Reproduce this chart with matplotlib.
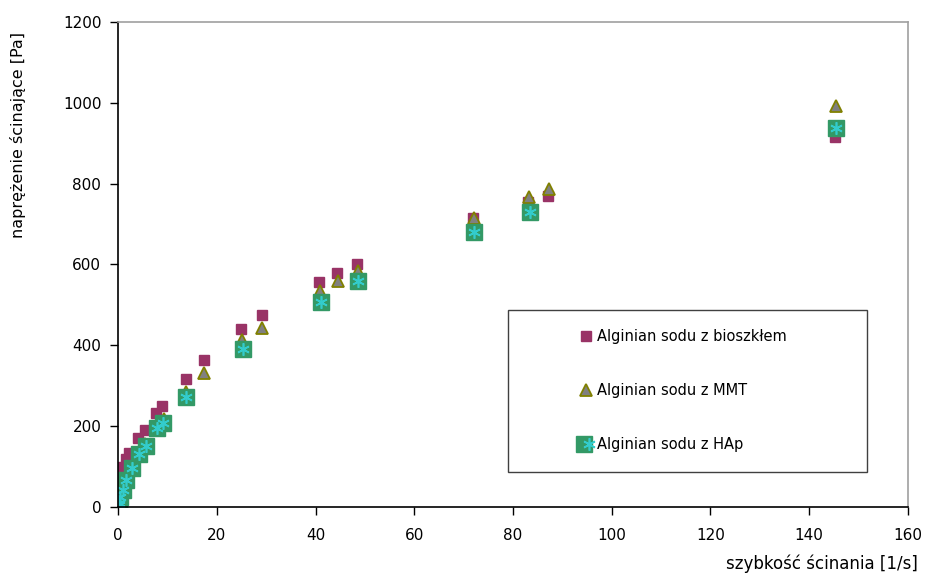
import matplotlib.pyplot as plt
from matplotlib.legend_handler import HandlerTuple
from matplotlib.patches import Rectangle

plt.rcParams['font.family'] = ['DejaVu Sans']

# shear rate [1/s] and shear stress [Pa] for each sample
x_bio = [0.1, 0.2, 0.4, 0.6, 1.0, 1.6, 2.3, 4.0, 5.4, 7.7, 9.0, 13.7, 17.4,
         25.0, 29.1, 40.7, 44.4, 48.5, 71.8, 83.1, 87.1, 145.2]
y_bio = [20, 35, 55, 75, 98, 118, 133, 171, 191, 233, 251, 317, 363,
         440, 475, 557, 580, 601, 714, 755, 769, 916]

x_mmt = [0.1, 0.2, 0.4, 0.8, 1.5, 2.5, 4.0, 5.5, 7.8, 9.3, 13.8, 17.5,
         25.2, 29.2, 41.0, 44.6, 48.7, 72.0, 83.3, 87.3, 145.5]
y_mmt = [5, 12, 25, 40, 63, 95, 130, 157, 200, 218, 285, 332,
         412, 444, 535, 560, 585, 714, 768, 786, 992]

x_hap = [0.1, 0.2, 0.4, 0.95, 1.6, 2.8, 4.2, 5.7, 7.8, 9.2, 13.8,
         25.4, 41.1, 48.7, 72.2, 83.4, 145.5]
y_hap = [5, 9, 25, 42, 67, 97, 130, 152, 195, 209, 271,
         392, 508, 559, 681, 731, 938]

labels = ["Alginian sodu z bioszkłem", "Alginian sodu z MMT", "Alginian sodu z HAp"]

fig = plt.figure(figsize=(9.28, 5.83), dpi=100)
ax = fig.add_axes([0.1272, 0.1304, 0.8512, 0.8319])

h1, = ax.plot(x_bio, y_bio, 's', ms=7.2, color='#993366', mec='#993366', ls='none')
h2, = ax.plot(x_mmt, y_mmt, '^', ms=8, mfc='#808080', mec='#808000', mew=1.3, ls='none')
h3a, = ax.plot(x_hap, y_hap, 's', ms=11.5, color='#339966', mec='#339966', ls='none')
h3b, = ax.plot(x_hap, y_hap, marker=(6, 2, 0), ms=9, mec='#33CCCC', mew=1.2, ls='none')

ax.set_xlim(0, 160)
ax.set_ylim(0, 1200)
ax.set_xticks(range(0, 161, 20))
ax.set_yticks(range(0, 1201, 200))
ax.tick_params(direction='out', length=6, width=1, labelsize=11, pad=6)
ax.tick_params(axis='x', pad=9)

for s in ('left', 'bottom'):
    ax.spines[s].set_color('black')
    ax.spines[s].set_linewidth(1.2)
for s in ('top', 'right'):
    ax.spines[s].set_color('#a0a0a0')
    ax.spines[s].set_linewidth(1.2)

fig.text(0.0194, 0.768, "naprężenie ścinające [Pa]", rotation=90,
         ha='center', va='center', fontsize=11.5)
fig.text(0.989, 0.018, "szybkość ścinania [1/s]", ha='right', va='bottom',
         fontsize=12)

# legend box drawn separately, entries placed inside it
ax.add_patch(Rectangle((0.494, 0.072), 0.454, 0.334, transform=ax.transAxes,
                       facecolor='white', edgecolor='#404040', lw=1.0,
                       zorder=5, clip_on=False))
leg = ax.legend([h1, h2, (h3a, h3b)], labels,
                handler_map={tuple: HandlerTuple(ndivide=None)},
                loc='upper left', bbox_to_anchor=(581 / 928, 1 - 329 / 583),
                bbox_transform=fig.transFigure, frameon=False,
                fontsize=10.5, handlelength=0.75, handletextpad=0.35,
                labelspacing=2.68, borderpad=0, borderaxespad=0)
leg.set_zorder(6)

fig.savefig('out.png', dpi=100)
